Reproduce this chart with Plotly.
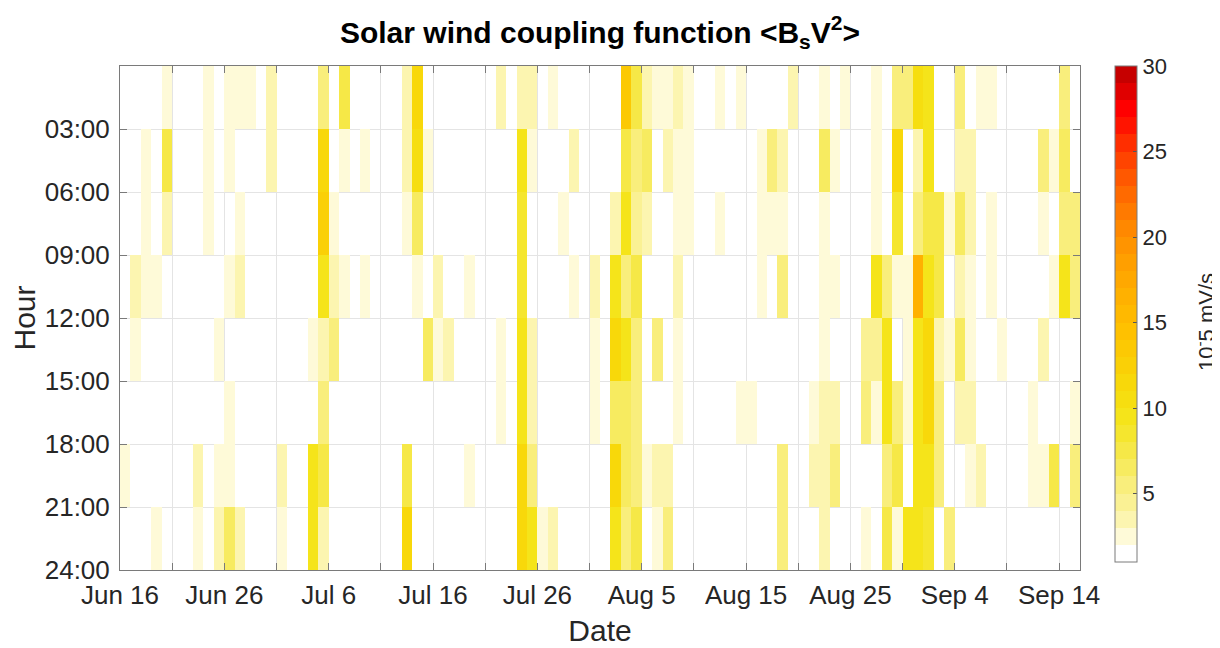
import plotly.graph_objects as go
import pandas as pd

# ---------------- data ----------------
start_date = "2023-06-16"
n_days = 92
hour_centers = [1.5, 4.5, 7.5, 10.5, 13.5, 16.5, 19.5, 22.5]
hour_tick_vals = [3, 6, 9, 12, 15, 18, 21, 24]
hour_tick_labels = ["03:00", "06:00", "09:00", "12:00", "15:00", "18:00", "21:00", "24:00"]
date_tick_labels = ["Jun 16", "", "Jun 26", "", "Jul 6", "", "Jul 16", "", "Jul 26", "",
                    "Aug 5", "", "Aug 15", "", "Aug 25", "", "Sep 4", "", "Sep 14"]
cbar_tick_vals = [5, 10, 15, 20, 25, 30]

# values (10^-5 mV/s), one value per day, 0 = below colour floor
row_00_03 = [0, 0, 0, 0, 2.5, 0, 0, 0, 2.5, 0,
             2.5, 2.5, 2.5, 0, 3.5, 0, 0, 0, 0, 5.5,
             0, 7, 0, 0, 0, 0, 0, 3.5, 11, 0,
             0, 0, 0, 0, 0, 0, 3.5, 0, 3.5, 3.5,
             0, 2.5, 0, 0, 0, 0, 0, 0, 13.5, 7,
             3.5, 2.5, 2.5, 3.5, 2.5, 0, 0, 2.5, 0, 2.5,
             0, 0, 0, 0, 3.5, 0, 0, 2.5, 0, 2.5,
             0, 0, 2.5, 0, 5.5, 5, 10.5, 9, 0, 0,
             5, 0, 2.5, 2.5, 0, 0, 0, 0, 0, 0,
             5.5, 0]
row_03_06 = [0, 0, 2.5, 0, 7, 0, 0, 0, 2.5, 0,
             2.5, 0, 0, 0, 3.5, 0, 0, 0, 0, 11.5,
             0, 2.5, 0, 2.5, 0, 0, 0, 3.5, 10.5, 2.5,
             0, 0, 0, 0, 0, 0, 0, 0, 9, 2.5,
             0, 0, 0, 3.5, 0, 0, 0, 0, 7, 5.5,
             6.5, 0, 3.5, 2.5, 2.5, 0, 0, 0, 0, 0,
             0, 2.5, 5, 3.5, 0, 0, 0, 6.5, 2.5, 0,
             0, 0, 2.5, 0, 11, 0, 3.5, 9, 0, 0,
             3.5, 3.5, 0, 0, 0, 0, 0, 0, 5, 2.5,
             6, 0]
row_06_09 = [0, 0, 2.5, 0, 3.5, 0, 0, 0, 2.5, 0,
             0, 2.5, 0, 0, 0, 0, 0, 0, 0, 12.5,
             2.5, 0, 0, 0, 0, 0, 0, 2.5, 6.5, 0,
             0, 0, 0, 0, 0, 0, 0, 0, 8, 0,
             0, 0, 2.5, 0, 0, 0, 0, 3.5, 9.5, 4.5,
             3.5, 0, 0, 2.5, 2.5, 0, 0, 2.5, 0, 0,
             0, 2.5, 2.5, 2.5, 0, 0, 0, 2.5, 0, 0,
             0, 0, 2.5, 0, 8.5, 0, 5, 7, 7.5, 2.5,
             6.5, 3.5, 0, 2.5, 0, 0, 0, 0, 2.5, 0,
             5.5, 5.5]
row_09_12 = [0, 3.5, 2.5, 2.5, 0, 0, 0, 0, 0, 0,
             2.5, 3.5, 0, 0, 0, 0, 0, 0, 0, 9,
             3.5, 2.5, 0, 2.5, 0, 0, 0, 0, 2.5, 0,
             3.5, 0, 0, 2.5, 0, 0, 0, 0, 8.5, 0,
             0, 0, 0, 2.5, 0, 3.5, 0, 9.5, 5.5, 7,
             0, 0, 0, 3.5, 0, 0, 0, 0, 0, 0,
             0, 2.5, 0, 5, 0, 0, 0, 2.5, 2.5, 0,
             0, 0, 9, 5.5, 2.5, 2.5, 16, 9, 7.5, 0,
             3.5, 2.5, 0, 2.5, 0, 0, 0, 0, 0, 2.5,
             9, 5.5]
row_12_15 = [0, 2.5, 0, 0, 0, 0, 0, 0, 0, 2.5,
             0, 0, 0, 0, 0, 0, 0, 0, 2.5, 3.5,
             5.5, 0, 0, 0, 0, 0, 0, 0, 0, 6.5,
             2.5, 3.5, 0, 0, 0, 0, 2.5, 0, 9, 3.5,
             0, 0, 0, 0, 0, 2.5, 0, 11, 9, 5.5,
             0, 5, 0, 2.5, 0, 0, 0, 0, 0, 0,
             0, 0, 0, 0, 0, 0, 0, 2.5, 0, 0,
             0, 4, 4, 9, 0, 2.5, 9, 11, 3.5, 2.5,
             6.5, 2.5, 0, 0, 2.5, 0, 0, 0, 3.5, 0,
             0, 0]
row_15_18 = [0, 0, 0, 0, 0, 0, 0, 0, 0, 0,
             2.5, 0, 0, 0, 0, 0, 0, 0, 0, 5.5,
             0, 0, 0, 0, 0, 0, 0, 0, 0, 0,
             0, 0, 0, 0, 0, 0, 2.5, 0, 9, 3.5,
             0, 0, 0, 0, 0, 2.5, 0, 6.5, 6.5, 5,
             0, 0, 0, 2.5, 0, 0, 0, 0, 0, 2.5,
             2.5, 0, 0, 0, 0, 0, 2.5, 3.5, 3.5, 0,
             0, 5, 2.5, 9, 5.5, 2.5, 9, 11, 5, 0,
             3.5, 3.5, 0, 0, 0, 0, 0, 2.5, 0, 0,
             0, 2.5]
row_18_21 = [2.5, 0, 0, 0, 0, 0, 0, 3.5, 0, 2.5,
             2.5, 0, 0, 0, 0, 3.5, 0, 0, 9, 7.5,
             0, 0, 0, 0, 0, 0, 0, 7.5, 0, 0,
             0, 0, 0, 2.5, 0, 0, 0, 0, 11, 5,
             0, 0, 0, 0, 0, 0, 0, 11, 6.5, 5.5,
             2.5, 3.5, 3.5, 0, 0, 0, 0, 0, 0, 0,
             0, 0, 0, 5, 0, 0, 3.5, 3.5, 5, 0,
             0, 0, 0, 5.5, 7, 0, 9, 9, 5.5, 0,
             0, 2.5, 3.5, 0, 0, 0, 0, 2.5, 2.5, 7,
             0, 5.5]
row_21_24 = [0, 0, 0, 2.5, 0, 0, 0, 2.5, 0, 3.5,
             6.5, 3.5, 0, 0, 0, 2.5, 0, 0, 9, 3.5,
             0, 0, 0, 0, 0, 0, 0, 11, 0, 0,
             0, 0, 0, 0, 0, 0, 0, 0, 11, 9,
             2.5, 3.5, 0, 0, 0, 0, 0, 9, 5.5, 7,
             0, 2.5, 5, 0, 0, 0, 0, 0, 0, 0,
             0, 0, 0, 5, 0, 0, 0, 3.5, 0, 0,
             0, 2.5, 0, 7.5, 2.5, 9.5, 9.5, 8.5, 0, 5.5,
             0, 0, 0, 0, 0, 0, 0, 0, 0, 0,
             0, 0]

rows = [row_00_03, row_03_06, row_06_09, row_09_12,
        row_12_15, row_15_18, row_18_21, row_21_24]

# ---------------- styling ----------------
zmin, zmax = 1, 30
band_colors = ["#FFFFFF", "#FEFAD8", "#FCF5B0", "#FAF194", "#F9EE7C", "#F7EB60",
               "#F6E847", "#F5E62E", "#F5E41A", "#F6DE10", "#F8D80A", "#FAD006",
               "#FCC903", "#FFC100", "#FFB900", "#FFB100", "#FFA800", "#FF9F00",
               "#FF9400", "#FF8800", "#FF7A00", "#FF6A00", "#FF5800", "#FF4400",
               "#FF2E00", "#FF1400", "#FF0000", "#E00000", "#C60000"]
nb = len(band_colors)
colorscale = []
for k, c in enumerate(band_colors):
    colorscale.append([k / nb, c])
    colorscale.append([(k + 1) / nb, c])

x_centers = pd.date_range(pd.Timestamp(start_date) + pd.Timedelta(hours=12), periods=n_days, freq="D")
x_ticks = pd.date_range(start_date, periods=len(date_tick_labels), freq="5D")
x_end = pd.Timestamp(start_date) + pd.Timedelta(days=n_days)

z = [[(v if v >= 1.5 else None) for v in r] for r in rows]

FONT = "Liberation Sans, Arial, Helvetica, sans-serif"
TXT = "#262626"
AX = "#7a7a7a"

# page body adds an 8 px offset; compensate so the plot area sits at x 120-1080, y 66-570
OFF = 8
ML, MT = 120 - OFF, 66 - OFF
PW, PH = 960, 504
W, H = 1220, 648

fig = go.Figure(go.Heatmap(
    x=x_centers, y=hour_centers, z=z,
    zmin=zmin, zmax=zmax, colorscale=colorscale,
    hoverongaps=False, xgap=0, ygap=0,
    colorbar=dict(
        x=(1115 - 120) / PW, xanchor="left", xref="paper",
        y=1.0, yanchor="top", len=496, lenmode="pixels",
        thickness=22, thicknessmode="pixels",
        outlinecolor="#7a7a7a", outlinewidth=1,
        tickvals=cbar_tick_vals, ticks="inside", ticklen=4, tickcolor="#555555",
        tickfont=dict(family=FONT, size=22, color=TXT),
        ypad=0, xpad=0,
    ),
))

fig.update_layout(
    width=W, height=H,
    margin=dict(l=ML, r=W - ML - PW, t=MT, b=H - MT - PH, autoexpand=False),
    paper_bgcolor="white", plot_bgcolor="white",
    font=dict(family=FONT, color=TXT),
    title=dict(text="<b>Solar wind coupling function &lt;B<sub>s</sub>V<sup>2</sup>&gt;</b>",
               x=0.5, xref="paper", xanchor="center", y=1 - (32 - OFF) / H, yanchor="middle",
               font=dict(family=FONT, size=30, color="#000000")),
    xaxis=dict(
        type="date", range=[pd.Timestamp(start_date), x_end], automargin=False,
        tickvals=list(x_ticks), ticktext=date_tick_labels,
        ticks="inside", ticklen=7, tickcolor=AX,
        showline=True, linecolor=AX, linewidth=1, mirror="ticks",
        showgrid=True, gridcolor="#e4e4e4", gridwidth=1, zeroline=False,
        tickfont=dict(family=FONT, size=26, color=TXT),
        ticklabelstandoff=2,
        title=dict(text="Date", font=dict(family=FONT, size=30, color=TXT), standoff=10),
    ),
    yaxis=dict(
        range=[24, 0], tickvals=hour_tick_vals, ticktext=hour_tick_labels, automargin=False,
        ticks="inside", ticklen=7, tickcolor=AX,
        showline=True, linecolor=AX, linewidth=1, mirror="ticks",
        showgrid=True, gridcolor="#e4e4e4", gridwidth=1, zeroline=False,
        tickfont=dict(family=FONT, size=26, color=TXT),
        ticklabelstandoff=4,
        title=dict(text="Hour", font=dict(family=FONT, size=30, color=TXT), standoff=10),
    ),
    annotations=[dict(
        text="10<sup>-</sup>5 mV/s", xref="paper", yref="paper",
        x=(1205 - 120) / PW, y=(570 - 322) / PH, xanchor="center", yanchor="middle",
        textangle=-90, showarrow=False,
        font=dict(family=FONT, size=22, color=TXT),
    )],
)

fig.write_html("out.html")
